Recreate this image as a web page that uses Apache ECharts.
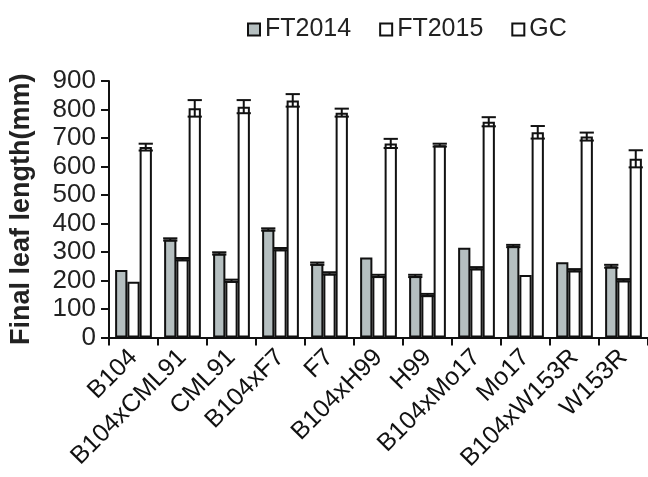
<!DOCTYPE html>
<html>
<head>
<meta charset="utf-8">
<script src="https://cdn.jsdelivr.net/npm/echarts@6/dist/echarts.min.js"></script>
<style>html,body{margin:0;padding:0;background:#fff}#c{width:648px;height:477px}</style>
</head>
<body>
<div id="c"></div>
<script>
var categories = ['B104','B104xCML91','CML91','B104xF7','F7','B104xH99','H99','B104xMo17','Mo17','B104xW153R','W153R'];
var ft2014 = [237, 344, 295, 379, 259, 281, 216, 315, 321, 264, 250];
var ft2014Err = [0, 4, 4, 4, 4, 0, 4, 0, 4, 0, 5];
var ft2015 = [196, 275, 199, 310, 225, 216, 149, 243, 219, 236, 201];
var ft2015Err = [0, 4, 4, 4, 4, 4, 4, 4, 0, 4, 4];
var gc = [668, 804, 810, 832, 789, 681, 675, 757, 720, 705, 627];
var gcErr = [12, 29, 23, 22, 14, 16, 5, 16, 22, 14, 30];
var yTicks = [0, 100, 200, 300, 400, 500, 600, 700, 800, 900];

var FONT = "'Liberation Sans', Arial, sans-serif";
var INK = '#111';

function errData(vals, errs) {
  return vals.map(function (v, i) { return [i, v, errs[i]]; });
}
function errRender(k) {
  return function (params, api) {
    var x = api.value(0), v = api.value(1), e = api.value(2);
    if (!e) return;
    var band = api.size([1, 0])[0];
    var bw = band * 0.75 / 3;
    var cx = api.coord([x, v])[0] + (k - 1) * bw;
    var hi = api.coord([x, v + e])[1];
    var lo = api.coord([x, v - e])[1];
    var hw = (bw + 2) / 2;
    var st = { stroke: INK, lineWidth: 2, fill: null };
    return {
      type: 'group',
      children: [
        { type: 'line', shape: { x1: cx, y1: hi, x2: cx, y2: lo }, style: st },
        { type: 'line', shape: { x1: cx - hw, y1: hi, x2: cx + hw, y2: hi }, style: st },
        { type: 'line', shape: { x1: cx - hw, y1: lo, x2: cx + hw, y2: lo }, style: st }
      ]
    };
  };
}

var chart = echarts.init(document.getElementById('c'));
var barStyle = function (fill) {
  return { color: fill, borderColor: INK, borderWidth: 2 };
};
chart.setOption({
  animation: false,
  backgroundColor: '#fff',
  textStyle: { fontFamily: FONT },
  legend: {
    left: 242, top: 12,
    itemWidth: 12, itemHeight: 12, itemGap: 28,
    icon: 'rect',
    textStyle: { fontSize: 25, color: '#222', fontFamily: FONT },
    data: ['FT2014', 'FT2015', 'GC']
  },
  grid: { left: 108, top: 81, width: 542, height: 256.5 },
  xAxis: {
    type: 'category',
    data: categories,
    axisLine: { lineStyle: { color: INK, width: 2 } },
    axisTick: { show: true, length: 8, lineStyle: { color: INK, width: 2 } },
    axisLabel: { rotate: 45, fontSize: 25, color: '#111', margin: 16, fontFamily: FONT, interval: 0 }
  },
  yAxis: {
    type: 'value', min: 0, max: 900, interval: 100,
    name: 'Final leaf length(mm)',
    nameLocation: 'middle', nameGap: 74, nameRotate: 90,
    nameTextStyle: { fontSize: 27, fontWeight: 'bold', color: '#222', fontFamily: FONT },
    axisLine: { show: true, lineStyle: { color: INK, width: 2 } },
    axisTick: { show: true, length: 8, lineStyle: { color: INK, width: 2 } },
    splitLine: { show: false },
    axisLabel: {
      fontSize: 26, color: '#222', margin: 13, fontFamily: FONT,
      formatter: function (v) { return yTicks.indexOf(v) >= 0 ? String(v) : ''; }
    }
  },
  series: [
    { name: 'FT2014', type: 'bar', data: ft2014, barGap: '0%', barCategoryGap: '25%', itemStyle: barStyle('#b5bfc0') },
    { name: 'FT2015', type: 'bar', data: ft2015, barGap: '0%', barCategoryGap: '25%', itemStyle: barStyle('#ffffff') },
    { name: 'GC', type: 'bar', data: gc, barGap: '0%', barCategoryGap: '25%', itemStyle: barStyle('#ffffff') },
    { type: 'custom', renderItem: errRender(0), data: errData(ft2014, ft2014Err), z: 5, silent: true },
    { type: 'custom', renderItem: errRender(1), data: errData(ft2015, ft2015Err), z: 5, silent: true },
    { type: 'custom', renderItem: errRender(2), data: errData(gc, gcErr), z: 5, silent: true }
  ]
});
</script>
</body>
</html>
